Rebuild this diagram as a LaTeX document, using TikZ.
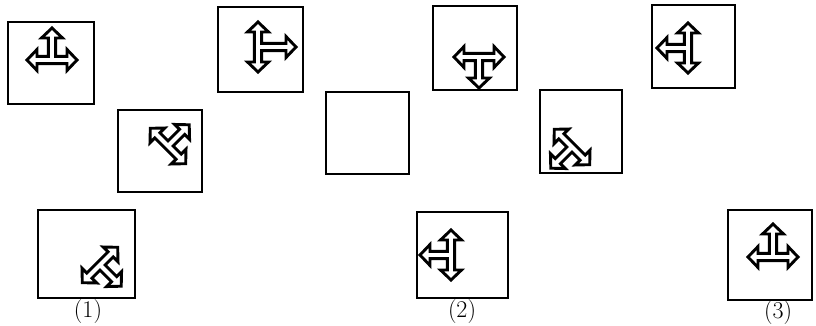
\documentclass[tikz,border=0pt]{standalone}
\usepackage{fontspec}
\usetikzlibrary{calc}
\tikzset{
  frame/.style={draw=black, line width=1.7pt, rectangle, inner sep=0pt},
  glyph/.style={draw=black, fill=white, line width=2.9pt, line join=miter},
  lbl/.style={font=\fontsize{24}{26}\selectfont, inner sep=0pt},
  pics/tee/.style={code={
    \def\L{25}\def\H{#1}\def\w{3.6}\def\a{10.5}\def\h{10}
    \draw[glyph] (\L,0) -- (\L-\h,-\a) -- (\L-\h,-\w) -- (\w,-\w) -- (\w,-\H+\h)
      -- (\a,-\H+\h) -- (0,-\H) -- (-\a,-\H+\h) -- (-\w,-\H+\h) -- (-\w,-\w)
      -- (-\L+\h,-\w) -- (-\L+\h,-\a) -- (-\L,0) -- (-\L+\h,\a) -- (-\L+\h,\w)
      -- (\L-\h,\w) -- (\L-\h,\a) -- cycle;
  }},
  pics/tee/.default=33
}
\begin{document}
\begin{tikzpicture}[x=1pt,y=-1pt]
\useasboundingbox (0,0) rectangle (816,326);
% boxes
\node[frame, minimum width=86pt, minimum height=82pt] (b1) at (51,63) {};
\node[frame, minimum width=85pt, minimum height=85pt] (b2) at (260.5,49.5) {};
\node[frame, minimum width=84pt, minimum height=84pt] (b3) at (475,48) {};
\node[frame, minimum width=83pt, minimum height=83pt] (b4) at (693.5,46.5) {};
\node[frame, minimum width=84pt, minimum height=82pt] (b5) at (160,151) {};
\node[frame, minimum width=83pt, minimum height=82pt] (b6) at (367.5,133) {};
\node[frame, minimum width=82pt, minimum height=83pt] (b7) at (581,131.5) {};
\node[frame, minimum width=97pt, minimum height=88pt] (a1) at (86.5,254) {};
\node[frame, minimum width=91pt, minimum height=86pt] (a2) at (462.5,255) {};
\node[frame, minimum width=84pt, minimum height=90pt] (a3) at (770,255) {};
% glyphs
\pic[shift={(52,60)}] {tee=32};
\pic[shift={(258,47)}, rotate=-90] {tee=38};
\pic[shift={(479,57)}, rotate=180] {tee=31};
\pic[shift={(688,48)}, rotate=90] {tee=31};
\pic[shift={(168,146)}, rotate=-45] {tee=30};
\pic[shift={(572,147)}, rotate=135] {tee=30};
\pic[shift={(100,265)}, rotate=-135] {tee=30};
\pic[shift={(451,255)}, rotate=90] {tee=31};
\pic[shift={(773,257)}] {tee=33};
% labels
\node[lbl] (l1) at (88,312) {(1)};
\node[lbl] (l2) at (462,312) {(2)};
\node[lbl] (l3) at (778,313) {(3)};
\end{tikzpicture}
\end{document}
